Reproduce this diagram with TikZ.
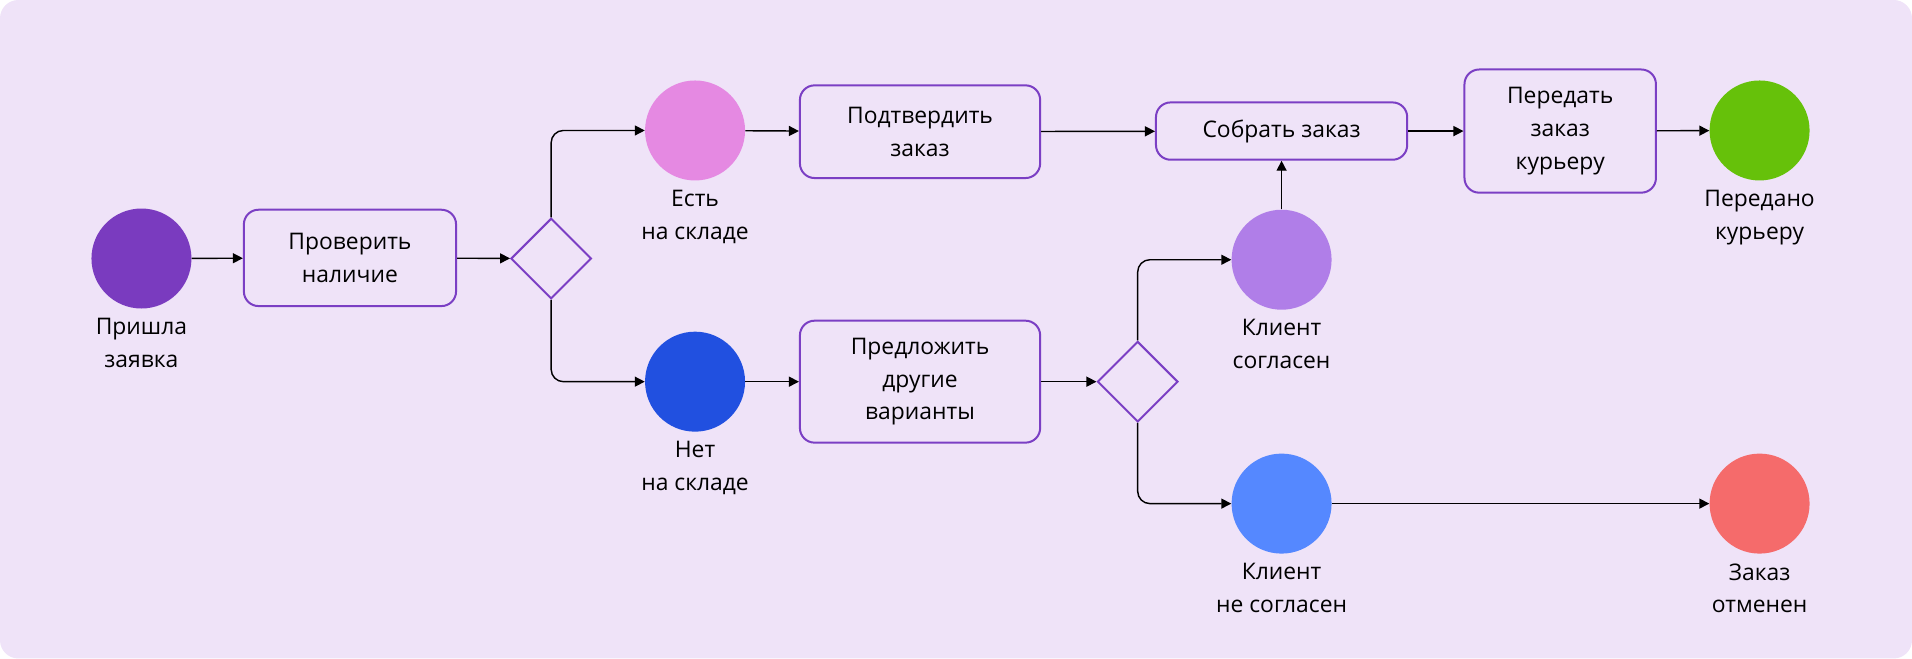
\documentclass[tikz,border=0pt]{standalone}
\usepackage{fontspec}
\setmainfont{Open Sans}
\usetikzlibrary{arrows.meta,shapes.geometric}
\definecolor{bg}{HTML}{EFE3F8}
\definecolor{pur}{HTML}{7B3FC4}
\definecolor{c1}{HTML}{7A3BBF}
\definecolor{c2}{HTML}{E589E2}
\definecolor{c3}{HTML}{2150E0}
\definecolor{c4}{HTML}{B07EE8}
\definecolor{c5}{HTML}{5588FF}
\definecolor{c6}{HTML}{66C10A}
\definecolor{c7}{HTML}{F56B6B}
\begin{document}
\begin{tikzpicture}[x=0.03cm,y=-0.03cm,
 ev/.style={circle,minimum size=2.46cm,inner sep=0pt},
 box/.style={draw=pur,line width=1.4pt,rounded corners=0.36cm,fill=bg,align=center,font=\fontsize{16}{23}\selectfont,inner sep=0pt},
 gw/.style={diamond,draw=pur,line width=1.4pt,minimum size=1.98cm,inner sep=0pt,fill=bg},
 lab/.style={align=center,font=\fontsize{16}{23}\selectfont,anchor=north},
 ar/.style={-{Triangle[length=7pt,width=7pt]},line width=1pt,rounded corners=0.3cm}]
\fill[bg,rounded corners=0.45cm] (0,0) rectangle (1568,540);
\useasboundingbox (0,0) rectangle (1568,540);
\node[ev,fill=c1] (s) at (116,212) {};
\node[lab] (sl) at (116,257) {Пришла\\заявка};
\node[box,minimum width=5.22cm,minimum height=2.37cm] (chk) at (287,211.5) {Проверить\\наличие};
\node[gw] (g1) at (452,212) {};
\node[ev,fill=c2] (yes) at (570,107) {};
\node[lab] (yesl) at (570,152) {Есть\\на складе};
\node[ev,fill=c3] (no) at (570,313) {};
\node[lab] (nol) at (570,358) {Нет\\на складе};
\node[box,minimum width=5.91cm,minimum height=2.28cm] (conf) at (754.5,108) {Подтвердить\\заказ};
\node[box,minimum width=5.91cm,minimum height=3.0cm] (off) at (754.5,313) {Предложить\\другие\\варианты};
\node[gw] (g2) at (933,313) {};
\node[box,minimum width=6.18cm,minimum height=1.41cm] (col) at (1051,107.5) {Собрать заказ};
\node[ev,fill=c4] (ok) at (1051,213) {};
\node[lab] (okl) at (1051,258) {Клиент\\согласен};
\node[ev,fill=c5] (nok) at (1051,413) {};
\node[lab] (nokl) at (1051,458) {Клиент\\не согласен};
\node[box,minimum width=4.71cm,minimum height=3.03cm] (pass) at (1279.5,107.5) {Передать\\заказ\\курьеру};
\node[ev,fill=c6] (done) at (1443,107) {};
\node[lab] (donel) at (1443,152) {Передано\\курьеру};
\node[ev,fill=c7] (cancel) at (1443,413) {};
\node[lab] (cancell) at (1443,458) {Заказ\\отменен};
\draw[ar] (s) -- (chk);
\draw[ar] (chk) -- (g1);
\draw[ar] (g1.north) |- (yes);
\draw[ar] (g1.south) |- (no);
\draw[ar] (yes) -- (conf);
\draw[ar] (no) -- (off);
\draw[ar] (conf) -- (col);
\draw[ar] (off) -- (g2);
\draw[ar] (g2.north) |- (ok);
\draw[ar] (g2.south) |- (nok);
\draw[ar] (ok) -- (col);
\draw[ar] (col) -- (pass);
\draw[ar] (pass) -- (done);
\draw[ar] (nok) -- (cancel);
\end{tikzpicture}
\end{document}
